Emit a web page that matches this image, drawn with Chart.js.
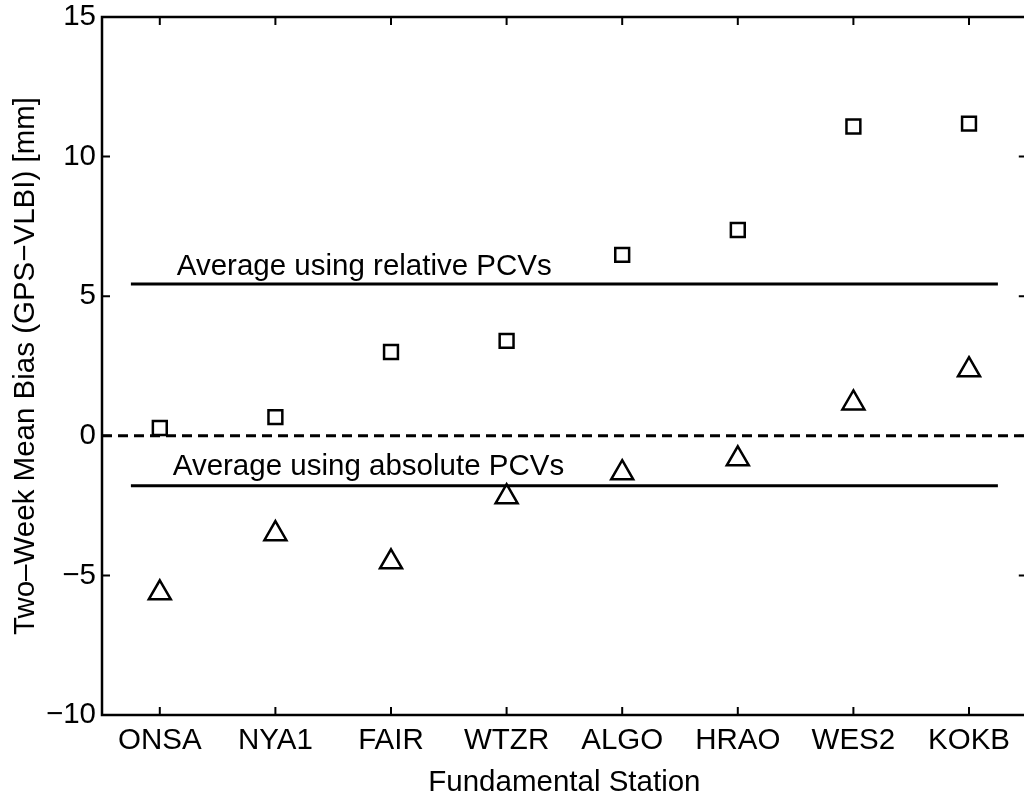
<!DOCTYPE html>
<html>
<head>
<meta charset="utf-8">
<script src="https://cdn.jsdelivr.net/npm/chart.js@4"></script>
<style>
  html, body { margin: 0; padding: 0; background: #fff; overflow: hidden; }
  canvas { display: block; }
</style>
</head>
<body>
<canvas id="bias-chart" width="1042" height="798"></canvas>
<script>
// --- data ---
const stations = ['ONSA', 'NYA1', 'FAIR', 'WTZR', 'ALGO', 'HRAO', 'WES2', 'KOKB'];
const relativeBias = [0.28, 0.67, 3.0, 3.4, 6.48, 7.37, 11.08, 11.18];
const absoluteBias = [-5.63, -3.51, -4.52, -2.19, -1.33, -0.83, 1.17, 2.36];
const relativeAverage = 5.44;
const absoluteAverage = -1.79;
const averageLineSpan = [-0.25, 7.25];
const yTicks = [-10, -5, 0, 5, 10, 15];

// labels next to the average lines
const noteTexts = ['Average using relative PCVs', 'Average using absolute PCVs'];
const noteX = [0.147, 0.112];
const noteY = [5.76, -1.40];

const FONT = "'Liberation Sans', Arial, Helvetica, sans-serif";
const FONT_SIZE = 29.5;

// frame on all four sides + inward ticks (matlab style)
const framePlugin = {
  id: 'frame',
  afterDraw(chart) {
    const { ctx, chartArea: a, scales } = chart;
    ctx.save();
    ctx.strokeStyle = '#000';
    ctx.lineWidth = 2.5;
    ctx.strokeRect(a.left, a.top, a.right - a.left, a.bottom - a.top);
    ctx.lineWidth = 2;
    const len = 8;
    scales.y.ticks.forEach(t => {
      const py = scales.y.getPixelForValue(t.value);
      ctx.beginPath();
      ctx.moveTo(a.left, py); ctx.lineTo(a.left + len, py);
      ctx.moveTo(a.right, py); ctx.lineTo(a.right - len, py);
      ctx.stroke();
    });
    scales.x.ticks.forEach(t => {
      const px = scales.x.getPixelForValue(t.value);
      ctx.beginPath();
      ctx.moveTo(px, a.bottom); ctx.lineTo(px, a.bottom - len);
      ctx.moveTo(px, a.top); ctx.lineTo(px, a.top + len);
      ctx.stroke();
    });
    ctx.restore();
  }
};

const notesPlugin = {
  id: 'notes',
  afterDatasetsDraw(chart) {
    const { ctx, scales } = chart;
    ctx.save();
    ctx.fillStyle = '#000';
    ctx.font = FONT_SIZE + 'px ' + FONT;
    ctx.textAlign = 'left';
    ctx.textBaseline = 'alphabetic';
    noteTexts.forEach((txt, i) => {
      ctx.fillText(txt, scales.x.getPixelForValue(noteX[i]), scales.y.getPixelForValue(noteY[i]));
    });
    ctx.restore();
  }
};

const ctx = document.getElementById('bias-chart').getContext('2d');
new Chart(ctx, {
  type: 'scatter',
  data: {
    datasets: [
      {
        label: 'relative',
        data: stations.map((s, i) => ({ x: i, y: relativeBias[i] })),
        pointStyle: 'rect',
        pointRadius: 9.8,
        pointBorderWidth: 2.5,
        pointBorderColor: '#000',
        pointBackgroundColor: 'rgba(0,0,0,0)'
      },
      {
        label: 'absolute',
        data: stations.map((s, i) => ({ x: i, y: absoluteBias[i] })),
        pointStyle: 'triangle',
        pointRadius: 12.7,
        pointBorderWidth: 2.5,
        pointBorderColor: '#000',
        pointBackgroundColor: 'rgba(0,0,0,0)'
      },
      {
        label: 'relative average',
        type: 'line',
        data: averageLineSpan.map(x => ({ x, y: relativeAverage })),
        borderColor: '#000',
        borderWidth: 3,
        pointRadius: 0
      },
      {
        label: 'absolute average',
        type: 'line',
        data: averageLineSpan.map(x => ({ x, y: absoluteAverage })),
        borderColor: '#000',
        borderWidth: 3,
        pointRadius: 0
      },
      {
        label: 'zero',
        type: 'line',
        data: [{ x: -0.5, y: 0 }, { x: 7.5, y: 0 }],
        borderColor: '#000',
        borderWidth: 3,
        borderDash: [10, 6],
        pointRadius: 0
      }
    ]
  },
  options: {
    responsive: false,
    animation: false,
    layout: { padding: { top: 17, right: 3, left: 0, bottom: 0 } },
    plugins: {
      legend: { display: false },
      tooltip: { enabled: false }
    },
    scales: {
      x: {
        type: 'linear',
        min: -0.5,
        max: 7.5,
        afterBuildTicks: s => { s.ticks = stations.map((_, i) => ({ value: i })); },
        afterFit: s => { s.height = 83; s.paddingLeft = 0; s.paddingRight = 0; },
        grid: { display: true, drawOnChartArea: false, drawTicks: false },
        border: { display: false },
        ticks: {
          color: '#000',
          padding: 8,
          maxRotation: 0,
          font: { family: FONT, size: FONT_SIZE },
          callback: v => stations[v] ?? ''
        },
        title: {
          display: true,
          text: 'Fundamental Station',
          color: '#000',
          padding: { top: 4, bottom: 0 },
          font: { family: FONT, size: FONT_SIZE, lineHeight: 1 }
        }
      },
      y: {
        min: -10,
        max: 15,
        afterBuildTicks: s => { s.ticks = yTicks.map(v => ({ value: v })); },
        afterFit: s => { s.width = 102; s.paddingTop = 0; s.paddingBottom = 0; },
        grid: { display: true, drawOnChartArea: false, drawTicks: false },
        border: { display: false },
        ticks: {
          color: '#000',
          padding: 6,
          font: { family: FONT, size: FONT_SIZE },
          callback: v => String(v).replace('-', '\u2212')
        },
        title: {
          display: true,
          text: 'Two\u2013Week Mean Bias (GPS\u2212VLBI) [mm]',
          color: '#000',
          padding: { top: 8, bottom: 0 },
          font: { family: FONT, size: FONT_SIZE }
        }
      }
    }
  },
  plugins: [framePlugin, notesPlugin]
});
</script>
</body>
</html>
